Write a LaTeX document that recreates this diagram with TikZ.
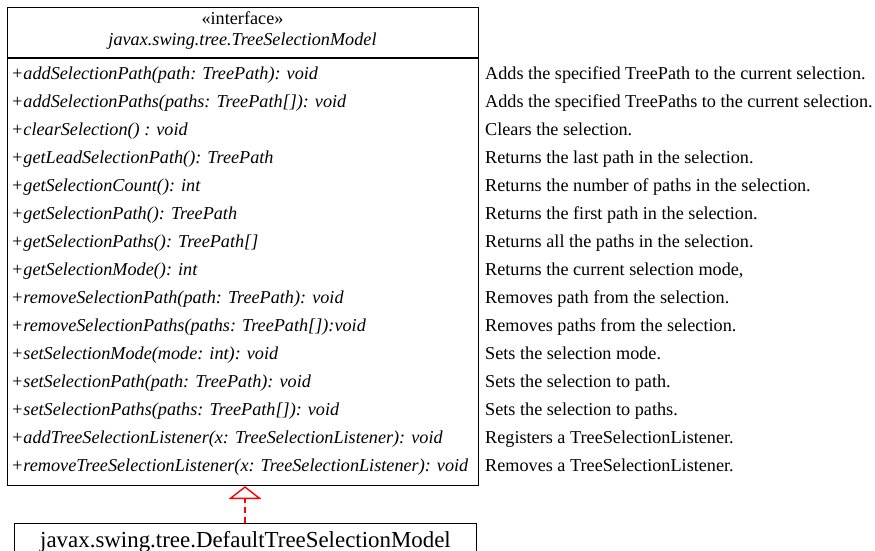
\documentclass[tikz,border=0pt]{standalone}
\usepackage{fontspec}
\setmainfont{Liberation Serif}
\usetikzlibrary{arrows.meta}
\begin{document}
\begin{tikzpicture}[x=1pt,y=-1pt,
  boxline/.style={draw=black, line width=1.1pt},
  meth/.style={anchor=base west, inner sep=0pt, font=\fontsize{18.2}{21}\selectfont\itshape},
  desc/.style={anchor=base west, inner sep=0pt, font=\fontsize{18.2}{21}\selectfont},
  realize/.style={draw=red, line width=1.4pt, dash pattern=on 6pt off 4pt,
    -{Triangle[open, width=33pt, length=13pt, line width=1.4pt]}}
]
\useasboundingbox (0,0) rectangle (875,551);
\fill[white] (0,0) rectangle (875,551);
% interface box
\node[boxline, anchor=north west, minimum width=471pt, minimum height=478pt, inner sep=0pt] (iface) at (7,7) {};
\coordinate (sepL) at (7,58);
\coordinate (sepR) at (478,58);
\draw[line width=1.1pt] (sepL) -- (sepR);
\node[anchor=base, font=\fontsize{18.2}{21}\selectfont, inner sep=0pt] (stereo) at (242.5,25) {«interface»};
\node[anchor=base, font=\fontsize{18.2}{21}\selectfont\itshape, inner sep=0pt] (iname) at (242.5,45.5) {javax.swing.tree.TreeSelectionModel};
\foreach \m/\d [count=\i from 0] in {
 {+addSelectionPath(path: TreePath): void}/{Adds the specified TreePath to the current selection.},
 {+addSelectionPaths(paths: TreePath[]): void}/{Adds the specified TreePaths to the current selection.},
 {+clearSelection() : void}/{Clears the selection.},
 {+getLeadSelectionPath(): TreePath}/{Returns the last path in the selection.},
 {+getSelectionCount(): int}/{Returns the number of paths in the selection.},
 {+getSelectionPath(): TreePath}/{Returns the first path in the selection.},
 {+getSelectionPaths(): TreePath[]}/{Returns all the paths in the selection.},
 {+getSelectionMode(): int}/{Returns the current selection mode,},
 {+removeSelectionPath(path: TreePath): void}/{Removes path from the selection.},
 {+removeSelectionPaths(paths: TreePath[]):void}/{Removes paths from the selection.},
 {+setSelectionMode(mode: int): void}/{Sets the selection mode.},
 {+setSelectionPath(path: TreePath): void}/{Sets the selection to path.},
 {+setSelectionPaths(paths: TreePath[]): void}/{Sets the selection to paths.},
 {+addTreeSelectionListener(x: TreeSelectionListener): void}/{Registers a TreeSelectionListener.},
 {+removeTreeSelectionListener(x: TreeSelectionListener): void}/{Removes a TreeSelectionListener.}
}{
  \node[meth] (m\i) at (11,{79+28*\i}) {\m};
  \node[desc] (d\i) at (485,{79+28*\i}) {\d};
}
% implementing class box
\node[boxline, anchor=north west, minimum width=462pt, minimum height=40pt, inner sep=0pt] (impl) at (14,523) {};
\node[anchor=base, font=\fontsize{22.9}{27}\selectfont, inner sep=0pt] (implname) at (245.5,547.5) {javax.swing.tree.DefaultTreeSelectionModel};
\draw[realize] (impl.north -| 245,0) -- (iface.south -| 245,0);
\end{tikzpicture}
\end{document}
